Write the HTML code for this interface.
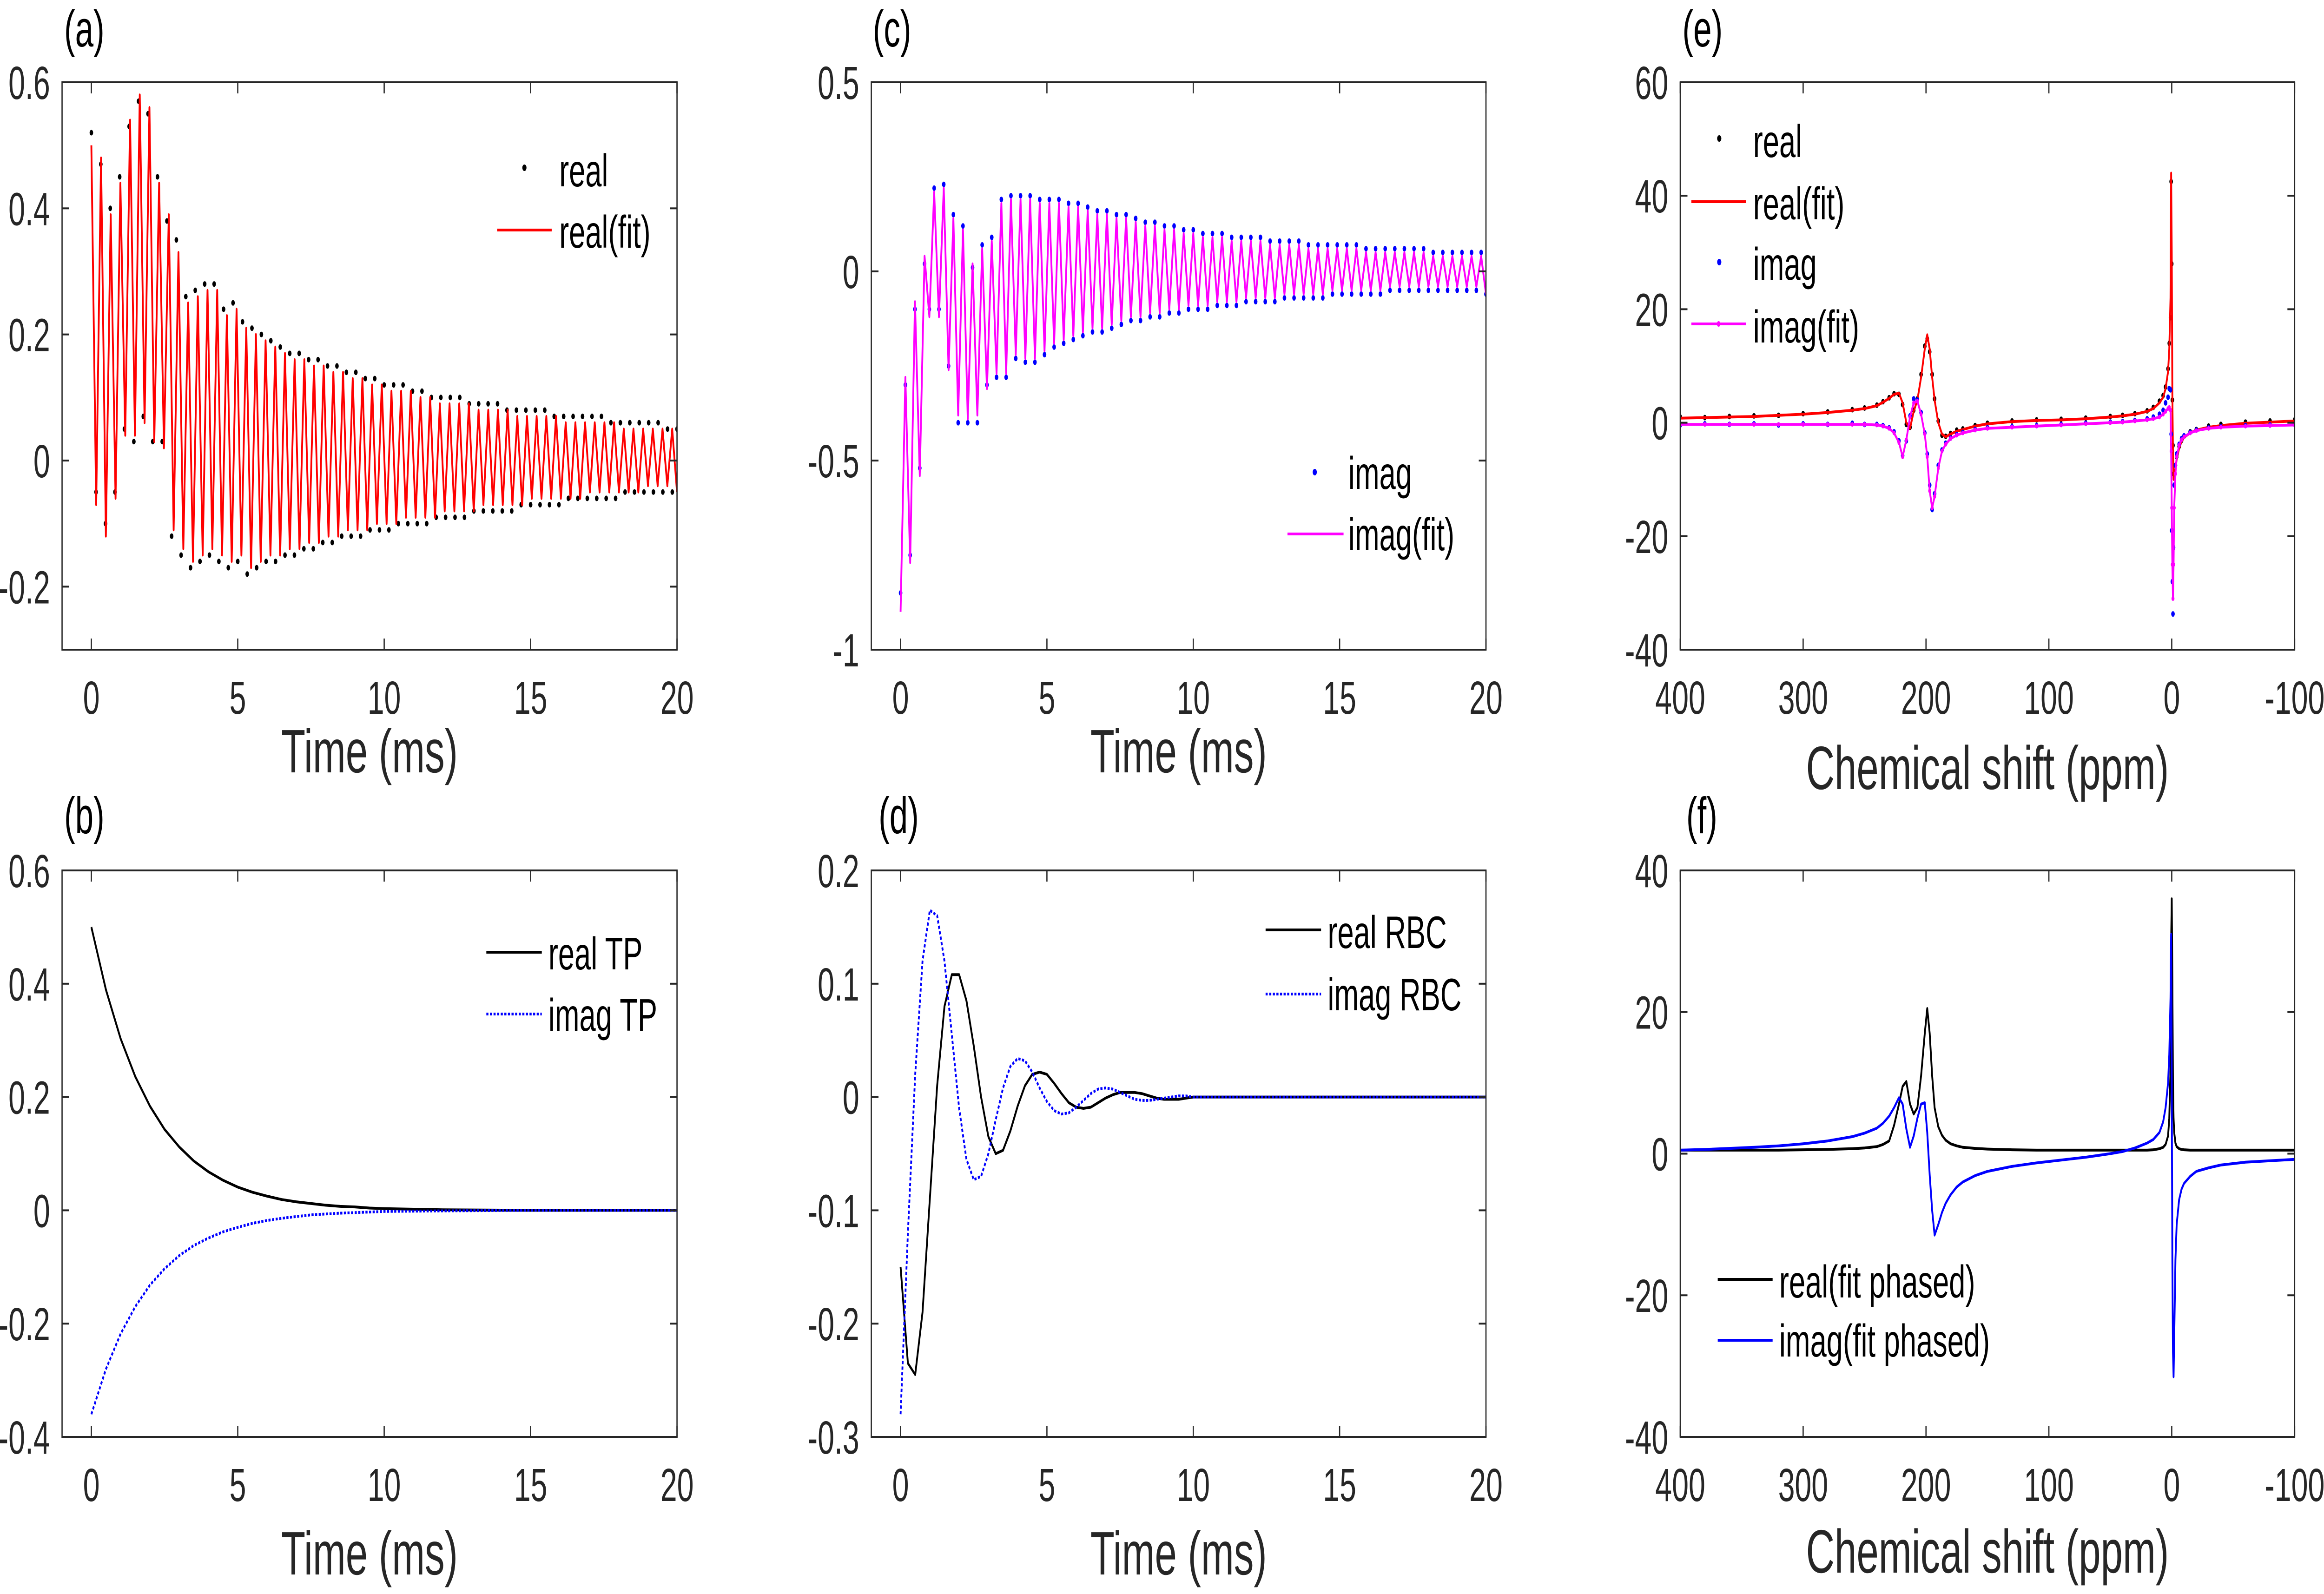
<!DOCTYPE html>
<html><head><meta charset="utf-8">
<style>
html,body{margin:0;padding:0;background:#fff;overflow:hidden;width:100vw;height:100vh;}
svg{display:block;font-family:"Liberation Sans",Arial,sans-serif;width:100vw;height:100vh;}
</style></head>
<body>
<svg id="fig" viewBox="0 0 7751 3430" preserveAspectRatio="none" xmlns="http://www.w3.org/2000/svg"></svg>
<script>
// ---------- Panel (a) data: real FID ----------
const realA = [0.52,-0.05,0.47,-0.10,0.40,-0.05,0.45,0.05,0.53,0.03,0.57,0.07,0.55,0.03,0.45,0.03,0.38,
-0.12,0.35,-0.15,0.26,-0.17,0.27,-0.16,0.28,-0.15,0.28,-0.16,0.24,-0.17,0.25,-0.16,0.22,-0.18,0.21,-0.17,0.20,-0.16,0.19,-0.16,0.18,-0.15,0.17,-0.15,0.17,-0.14,0.16,-0.14,0.16,-0.13,0.15,-0.13,0.15,-0.12,0.14,-0.12,0.14,-0.12,0.13,-0.11,0.13,-0.11,0.12,-0.11,0.12,-0.10,0.12,-0.10,0.11,-0.10,0.11,-0.10,0.10,-0.09,0.10,-0.09,0.10,-0.09,0.10,-0.09,0.09,-0.08,0.09,-0.08,0.09,-0.08,0.09,-0.08,0.08,-0.08,0.08,-0.07,0.08,-0.07,0.08,-0.07,0.08,-0.07,0.07,-0.07,0.07,-0.06,0.07,-0.06,0.07,-0.06,0.07,-0.06,0.07,-0.06,0.06,-0.06,0.06,-0.05,0.06,-0.05,0.06,-0.05,0.06,-0.05,0.06,-0.05,0.05,-0.05,0.05];
const realFitA = [0.50,-0.07,0.48,-0.12,0.39,-0.06,0.44,0.04,0.54,0.04,0.58,0.06,0.56,0.03,0.44,0.02,0.39,
-0.11,0.33,-0.14,0.25,-0.16,0.26,-0.15,0.27,-0.14,0.27,-0.15,0.23,-0.16,0.24,-0.15,0.21,-0.17,0.20,-0.16,0.19,-0.15,0.18,-0.15,0.17,-0.14,0.16,-0.14,0.16,-0.13,0.15,-0.13,0.15,-0.12,0.14,-0.12,0.14,-0.11,0.13,-0.11,0.13,-0.11,0.12,-0.10,0.12,-0.10,0.11,-0.10,0.11,-0.09,0.11,-0.09,0.10,-0.09,0.10,-0.09,0.09,-0.08,0.09,-0.08,0.09,-0.08,0.09,-0.08,0.08,-0.07,0.08,-0.07,0.08,-0.07,0.08,-0.07,0.07,-0.07,0.07,-0.06,0.07,-0.06,0.07,-0.06,0.07,-0.06,0.06,-0.06,0.06,-0.06,0.06,-0.05,0.06,-0.05,0.06,-0.05,0.06,-0.05,0.05,-0.05,0.05,-0.05,0.05,-0.04,0.05,-0.04,0.05,-0.04,0.05,-0.05];
// ---------- Panel (c) data: imag FID ----------
const imagC = [-0.85,-0.3,-0.75,-0.1,-0.52,0.02,-0.1,0.22,-0.1,0.23,-0.25,0.15,-0.4,0.12,-0.4,0.01,-0.4,0.07,-0.3,0.09,-0.28,0.19,-0.28,0.2,-0.23,0.2,-0.24,0.2,-0.24,0.19,-0.22,0.19,-0.2,0.19,-0.19,0.18,-0.18,0.18,-0.17,0.17,-0.16,0.16,-0.16,0.16,-0.15,0.15,-0.14,0.15,-0.13,0.14,-0.13,0.13,-0.12,0.13,-0.12,0.12,-0.11,0.12,-0.11,0.11,-0.10,0.11,-0.10,0.10,-0.10,0.10,-0.09,0.10,-0.09,0.09,-0.09,0.09,-0.08,0.09,-0.08,0.09,-0.08,0.08,-0.08,0.08,-0.07,0.08,-0.07,0.08,-0.07,0.07,-0.07,0.07,-0.07,0.07,-0.06,0.07,-0.06,0.07,-0.06,0.07,-0.06,0.06,-0.06,0.06,-0.06,0.06,-0.05,0.06,-0.05,0.06,-0.05,0.06,-0.05,0.06,-0.05,0.05,-0.05,0.05,-0.05,0.05,-0.05,0.05,-0.05,0.05,-0.05,0.05,-0.06];
const imagFitC = [-0.90,-0.28,-0.77,-0.08,-0.54,0.04,-0.12,0.21,-0.12,0.22,-0.26,0.14,-0.38,0.11,-0.39,0.02,-0.38,0.06,-0.31,0.08,-0.27,0.18,-0.27,0.19,-0.22,0.19,-0.23,0.19,-0.23,0.18,-0.21,0.18,-0.19,0.18,-0.18,0.17,-0.17,0.17,-0.16,0.16,-0.15,0.15,-0.15,0.15,-0.14,0.14,-0.13,0.14,-0.12,0.13,-0.12,0.12,-0.11,0.12,-0.11,0.11,-0.10,0.11,-0.10,0.10,-0.09,0.10,-0.09,0.09,-0.09,0.09,-0.08,0.09,-0.08,0.08,-0.08,0.08,-0.07,0.08,-0.07,0.08,-0.07,0.07,-0.07,0.07,-0.06,0.07,-0.06,0.07,-0.06,0.06,-0.06,0.06,-0.06,0.06,-0.05,0.06,-0.05,0.06,-0.05,0.06,-0.05,0.05,-0.05,0.05,-0.05,0.05,-0.04,0.05,-0.04,0.05,-0.04,0.05,-0.04,0.05,-0.04,0.04,-0.04,0.04,-0.04,0.04,-0.04,0.04,-0.04,0.04,-0.04,0.04,-0.06];
// ---------- Panel (b) data: TP ----------
const tTP = [0,0.5,1,1.5,2,2.5,3,3.5,4,4.5,5,5.5,6,6.5,7,7.5,8,8.5,9,9.5,10,12,15,20];
const realTP = [0.5,0.389,0.303,0.236,0.184,0.143,0.112,0.087,0.068,0.053,0.041,0.032,0.025,0.019,0.015,0.012,0.009,0.007,0.006,0.004,0.003,0.001,0,0];
const imagTP = [-0.36,-0.28,-0.218,-0.17,-0.132,-0.103,-0.08,-0.062,-0.049,-0.038,-0.03,-0.023,-0.018,-0.014,-0.011,-0.008,-0.0065,-0.005,-0.004,-0.003,-0.002,-0.001,0,0];
// ---------- Panel (d) data: RBC ----------
const tRBC = [0,0.25,0.5,0.75,1,1.25,1.5,1.75,2,2.25,2.5,2.75,3,3.25,3.5,3.75,4,4.25,4.5,4.75,5,5.25,5.5,5.75,6,6.25,6.5,6.75,7,7.25,7.5,7.75,8,8.25,8.5,8.75,9,9.25,9.5,9.75,10,20];
const realRBC = [-0.15,-0.235,-0.245,-0.19,-0.09,0.01,0.08,0.108,0.108,0.085,0.045,0.0,-0.035,-0.05,-0.047,-0.03,-0.008,0.01,0.02,0.022,0.02,0.012,0.003,-0.005,-0.009,-0.01,-0.009,-0.005,-0.001,0.002,0.004,0.004,0.004,0.003,0.001,-0.001,-0.002,-0.002,-0.002,-0.001,0,0];
const imagRBC = [-0.28,-0.12,0.02,0.12,0.165,0.16,0.12,0.055,-0.01,-0.055,-0.073,-0.07,-0.05,-0.02,0.008,0.027,0.034,0.032,0.022,0.008,-0.004,-0.012,-0.015,-0.014,-0.009,-0.003,0.003,0.007,0.008,0.007,0.004,0.001,-0.002,-0.003,-0.003,-0.002,-0.001,0,0.001,0.001,0,0];
// ---------- Panels (e),(f) data: spectra ----------
const ppm = [400,380,360,340,320,300,280,260,250,240,235,230,226,222,219,216,213,210,207,204,201,199,197,195,193,190,187,184,180,175,170,160,150,130,110,90,70,50,40,30,20,15,10,7,5,3,2,1,0.5,0,-0.5,-1,-1.5,-2,-3,-4,-6,-8,-10,-15,-20,-30,-40,-60,-80,-100];
const realFitE = [0.8,0.9,1.0,1.1,1.3,1.5,1.8,2.2,2.5,3.0,3.6,4.3,5,5.2,3.5,0,-1,2,4,8,13,15.5,13,8,4,0,-2,-2.5,-2,-1.5,-1.2,-0.6,-0.2,0.2,0.4,0.5,0.7,1.0,1.2,1.5,2,2.5,3.5,4.5,6,9,13,22,44,30,5,-5,-10,-9.5,-8,-6.5,-4.5,-3.3,-2.6,-1.8,-1.3,-0.8,-0.5,-0.1,0.1,0.3];
const realDotsE = [1.0,0.9,1.1,1.2,1.3,1.6,1.9,2.3,2.6,3.1,3.7,4.4,5.1,5.0,3.2,-0.3,-0.8,2.2,4.2,8.5,13.5,14.8,12.5,8.5,4.2,0.3,-2.2,-2.4,-1.9,-1.3,-1.1,-0.5,-0.1,0.3,0.5,0.6,0.8,1.1,1.3,1.6,2.1,2.7,3.8,4.8,6.3,9.5,14,18.5,42.5,28,4,-4,-9,-9.2,-7.5,-6,-4.2,-3.1,-2.4,-1.6,-1.2,-0.6,-0.3,0.1,0.3,0.5];
const imagFitE = [-0.3,-0.3,-0.3,-0.3,-0.3,-0.3,-0.3,-0.3,-0.3,-0.4,-0.6,-1,-1.8,-3.5,-6,-3,1,3.5,3.8,1.5,-2,-6,-12,-15,-13,-8,-5,-3.8,-2.8,-2.2,-1.8,-1.3,-1.0,-0.8,-0.6,-0.4,-0.2,0,0.1,0.3,0.5,0.7,1,1.5,2,2.5,2.7,2.2,-5,-15,-25,-31,-25,-15,-9,-6,-4,-3,-2.5,-1.8,-1.4,-1,-0.8,-0.6,-0.5,-0.4];
const imagDotsE = [-0.4,-0.2,-0.3,-0.2,-0.4,-0.2,-0.3,-0.1,-0.3,-0.3,-0.5,-0.9,-1.6,-3.2,-5.8,-3.2,1.2,4.2,4,1.8,-1.8,-5.5,-11,-15.3,-12.5,-7.5,-4.8,-3.6,-2.7,-2.1,-1.7,-1.2,-0.9,-0.7,-0.5,-0.3,-0.1,0.1,0.2,0.4,0.7,1.0,1.5,2.2,3.5,4.5,6,5.8,-2,-19,-28,-33.7,-22,-11,-7.5,-5.5,-3.8,-2.8,-2.3,-1.7,-1.3,-0.9,-0.7,-0.5,-0.4,-0.3];
const realF = [0.5,0.5,0.5,0.5,0.5,0.55,0.6,0.7,0.8,1.0,1.3,1.8,4,7,9.5,10.2,7,5.6,6.5,11,17,20.5,17,11,6.5,3.8,2.6,1.9,1.4,1.1,0.9,0.75,0.65,0.55,0.5,0.5,0.5,0.5,0.5,0.5,0.5,0.55,0.7,0.9,1.3,2.5,5,12,30,36,25,10,5,3,1.5,1,0.7,0.6,0.55,0.5,0.5,0.5,0.5,0.5,0.5,0.5];
const imagF = [0.5,0.6,0.75,0.9,1.1,1.4,1.8,2.4,2.9,3.6,4.3,5.3,6.5,7.9,7,3.5,0.9,2.5,5,7,7.2,3,-3,-8,-11.5,-10,-8.3,-7,-5.8,-4.7,-4,-3.1,-2.5,-1.8,-1.3,-0.9,-0.5,0,0.3,0.8,1.5,2,3,4.5,6.5,10,14,22,31,10,-15,-28,-31.5,-26,-15,-10,-6.5,-5,-4.2,-3.2,-2.5,-2,-1.6,-1.2,-1,-0.8];
// ---------- Tick values ----------
const timeTicks = [0,5,10,15,20];
const ppmTicks = [400,300,200,100,0,-100];
const yTicksA = [-0.2,0,0.2,0.4,0.6];
const yTicksB = [-0.4,-0.2,0,0.2,0.4,0.6];
const yTicksC = [-1,-0.5,0,0.5];
const yTicksD = [-0.3,-0.2,-0.1,0,0.1,0.2];
const yTicksE = [-40,-20,0,20,40,60];
const yTicksF = [-40,-20,0,20,40];

const NS = 'http://www.w3.org/2000/svg';
const fig = document.getElementById('fig');
const AX = '#262626';

function el(tag, parent, name, attrs) {
  const e = document.createElementNS(NS, tag);
  
  
  for (const k in attrs) e.setAttribute(k, attrs[k]);
  parent.appendChild(e);
  return e;
}
function txt(parent, name, x, y, s, size, anchor, fill) {
  const t = el('text', parent, name, {x: x, y: y, 'font-size': size, 'text-anchor': anchor, fill: fill || AX});
  t.textContent = s;
  return t;
}
function fmt(v) {
  return String(v);
}
function makeAxes(id, box, xd, yd, xt, yt, xlab, xlabY, tickY, plab, plabX, plabY) {
  const g = el('g', fig, 'panel-' + id, {});
  const sx = v => box.x0 + (v - xd[0]) / (xd[1] - xd[0]) * (box.x1 - box.x0);
  const sy = v => box.y1 - (v - yd[0]) / (yd[1] - yd[0]) * (box.y1 - box.y0);
  const cp = el('clipPath', g, 'clip-' + id, {id: 'clip-' + id});
  el('rect', cp, 'clip-rect', {x: box.x0, y: box.y0, width: box.x1 - box.x0, height: box.y1 - box.y0});
  const plot = el('g', g, 'plot-area-' + id, {'clip-path': 'url(#clip-' + id + ')'});
  const axg = el('g', g, 'axes-' + id, {});
  el('rect', axg, 'axes-box', {x: box.x0, y: box.y0, width: box.x1 - box.x0, height: box.y1 - box.y0, fill: 'none', stroke: AX, 'stroke-width': 4});
  xt.forEach(v => {
    const x = sx(v);
    el('line', axg, 'x-tick', {x1: x, x2: x, y1: box.y1, y2: box.y1 - 24, stroke: AX, 'stroke-width': 4});
    el('line', axg, 'x-tick-top', {x1: x, x2: x, y1: box.y0, y2: box.y0 + 24, stroke: AX, 'stroke-width': 4});
    txt(axg, 'x-tick-label', x, tickY, fmt(v), 100, 'middle');
  });
  yt.forEach(v => {
    const y = sy(v);
    el('line', axg, 'y-tick', {x1: box.x0, x2: box.x0 + 24, y1: y, y2: y, stroke: AX, 'stroke-width': 4});
    el('line', axg, 'y-tick-right', {x1: box.x1, x2: box.x1 - 24, y1: y, y2: y, stroke: AX, 'stroke-width': 4});
    txt(axg, 'y-tick-label', box.x0 - 40, y + 36, fmt(v), 100, 'end');
  });
  txt(axg, 'x-axis-title', (box.x0 + box.x1) / 2, xlabY, xlab, 132, 'middle');
  txt(axg, 'panel-label', plabX, plabY, plab, 110, 'start', '#000');
  return {g, plot, sx, sy};
}
function line(ax, xs, ys, name, color, w, dash) {
  const d = xs.map((x, i) => (i ? 'L' : 'M') + ax.sx(x).toFixed(1) + ' ' + ax.sy(ys[i]).toFixed(1)).join(' ');
  const a = {d: d, fill: 'none', stroke: color, 'stroke-width': w, 'stroke-linejoin': 'round'};
  if (dash) a['stroke-dasharray'] = dash;
  return el('path', ax.plot, name, a);
}
function dots(ax, xs, ys, name, color, r) {
  const g = el('g', ax.plot, name, {fill: color});
  xs.forEach((x, i) => {
    el('circle', g, 'data-point', {cx: ax.sx(x).toFixed(1), cy: ax.sy(ys[i]).toFixed(1), r: r});
  });
}
function timesFor(arr) {
  return arr.map((_, i) => i * 20 / (arr.length - 1));
}
function legLine(ax, x1, x2, y, color, w, dash, label, tx, ty) {
  const a = {x1: x1, x2: x2, y1: y, y2: y, stroke: color, 'stroke-width': w};
  if (dash) a['stroke-dasharray'] = dash;
  const l = el('line', ax.g, 'legend-line', a);
  txt(ax.g, 'legend-label', tx, ty, label, 98, 'start', '#000');
  return l;
}
function legDot(ax, cx, cy, color, label, tx, ty) {
  el('circle', ax.g, 'legend-marker', {cx: cx, cy: cy, r: 7, fill: color});
  txt(ax.g, 'legend-label', tx, ty, label, 98, 'start', '#000');
}

// ---- Panel a ----
const axA = makeAxes('a', {x0: 207, x1: 2258, y0: 177, y1: 1398}, [-1, 20], [-0.3, 0.6], timeTicks, yTicksA, 'Time (ms)', 1662, 1536, '(a)', 214, 100);
dots(axA, timesFor(realA), realA, 'real-data-points', '#000', 6);
line(axA, timesFor(realFitA), realFitA, 'real-fit-line', '#ff0000', 6);
legDot(axA, 1749, 361, '#000', 'real', 1865, 401);
legLine(axA, 1658, 1840, 495, '#ff0000', 6, null, 'real(fit)', 1865, 533);

// ---- Panel c ----
const axC = makeAxes('c', {x0: 2906, x1: 4956, y0: 177, y1: 1398}, [-1, 20], [-1, 0.5], timeTicks, yTicksC, 'Time (ms)', 1662, 1536, '(c)', 2911, 100);
dots(axC, timesFor(imagC), imagC, 'imag-data-points', '#0000ff', 6);
line(axC, timesFor(imagFitC), imagFitC, 'imag-fit-line', '#ff00ff', 6);
legDot(axC, 4385, 1016, '#0000ff', 'imag', 4497, 1052);
legLine(axC, 4294, 4481, 1149, '#ff00ff', 6, null, 'imag(fit)', 4497, 1184);

// ---- Panel e ----
const axE = makeAxes('e', {x0: 5604, x1: 7653, y0: 177, y1: 1398}, [400, -100], [-40, 60], ppmTicks, yTicksE, 'Chemical shift (ppm)', 1698, 1536, '(e)', 5611, 100);
dots(axE, ppm, realDotsE, 'real-spectrum-points', '#000', 6);
line(axE, ppm, realFitE, 'real-fit-spectrum', '#ff0000', 6);
dots(axE, ppm, imagDotsE, 'imag-spectrum-points', '#0000ff', 6);
line(axE, ppm, imagFitE, 'imag-fit-spectrum', '#ff00ff', 6);
dots(axE, ppm, imagFitE, 'imag-fit-markers', '#ff00ff', 5);
legDot(axE, 5734, 298, '#000', 'real', 5847, 338);
legLine(axE, 5641, 5824, 434, '#ff0000', 6, null, 'real(fit)', 5847, 472);
legDot(axE, 5734, 564, '#0000ff', 'imag', 5847, 602);
legLine(axE, 5641, 5824, 697, '#ff00ff', 6, null, 'imag(fit)', 5847, 737);
el('circle', axE.g, 'legend-marker', {cx: 5732, cy: 697, r: 6, fill: '#ff00ff'});

// ---- Panel b ----
const axB = makeAxes('b', {x0: 207, x1: 2258, y0: 1873, y1: 3092}, [-1, 20], [-0.4, 0.6], timeTicks, yTicksB, 'Time (ms)', 3388, 3230, '(b)', 214, 1793);
line(axB, tTP, realTP, 'real-tp-line', '#000', 6);
line(axB, tTP, imagTP, 'imag-tp-line', '#0000ff', 6, '7 5');
legLine(axB, 1622, 1807, 2049, '#000', 6, null, 'real TP', 1829, 2086);
legLine(axB, 1622, 1807, 2182, '#0000ff', 6, '7 5', 'imag TP', 1829, 2218);

// ---- Panel d ----
const axD = makeAxes('d', {x0: 2906, x1: 4956, y0: 1873, y1: 3092}, [-1, 20], [-0.3, 0.2], timeTicks, yTicksD, 'Time (ms)', 3388, 3230, '(d)', 2930, 1793);
line(axD, tRBC, realRBC, 'real-rbc-line', '#000', 6);
line(axD, tRBC, imagRBC, 'imag-rbc-line', '#0000ff', 6, '7 5');
legLine(axD, 4221, 4406, 2001, '#000', 6, null, 'real RBC', 4428, 2040);
legLine(axD, 4221, 4406, 2139, '#0000ff', 6, '7 5', 'imag RBC', 4428, 2174);

// ---- Panel f ----
const axF = makeAxes('f', {x0: 5604, x1: 7653, y0: 1873, y1: 3092}, [400, -100], [-40, 40], ppmTicks, yTicksF, 'Chemical shift (ppm)', 3384, 3230, '(f)', 5624, 1793);
line(axF, ppm, realF, 'real-phased-line', '#000', 6);
line(axF, ppm, imagF, 'imag-phased-line', '#0000ff', 6);
legLine(axF, 5729, 5912, 2753, '#000', 6, null, 'real(fit phased)', 5934, 2792);
legLine(axF, 5729, 5912, 2884, '#0000ff', 6, null, 'imag(fit phased)', 5934, 2919);
</script>
</body></html>
